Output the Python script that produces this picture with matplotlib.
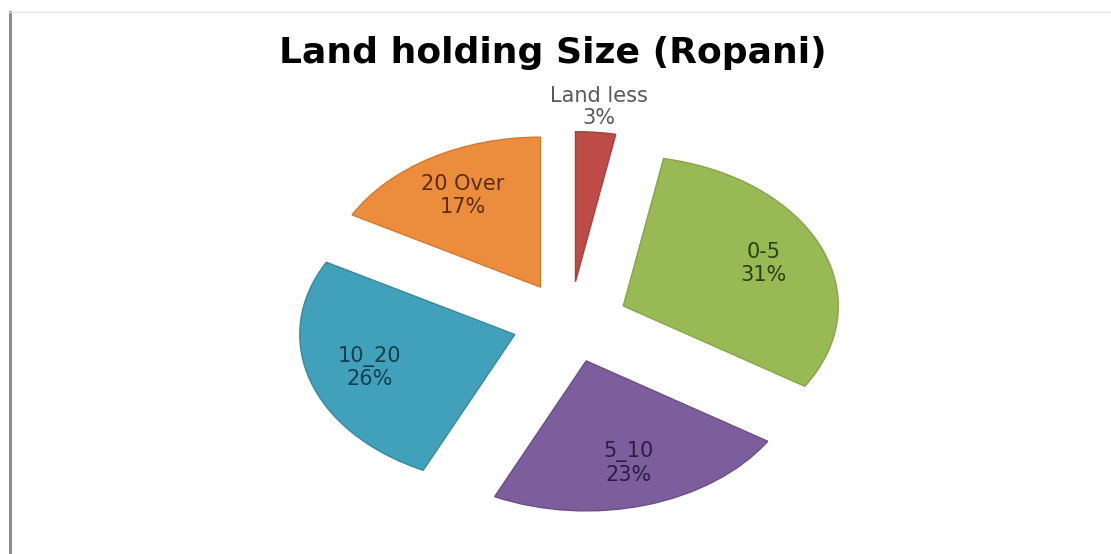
import matplotlib
matplotlib.use("Agg")
import matplotlib.pyplot as plt
import numpy as np

# Land holding categories and their shares (%)
categories = ["Land less", "0-5", "5_10", "10_20", "20 Over"]
shares = [3, 31, 23, 26, 17]

slice_colors = ["#BE4B48", "#98B954", "#7D5E9C", "#41A0BA", "#EC8D3E"]
edge_colors = ["#A43F3C", "#86A548", "#6A4E88", "#3689A1", "#D27A31"]
label_colors = ["#595959", "#2E3F12", "#2A1E44", "#123F50", "#5A2E0C"]

W, H = 1111, 554
fig = plt.figure(figsize=(W / 100, H / 100), dpi=100)
fig.patch.set_facecolor("white")

# chart frame: grey left rule and faint top rule
fig.add_artist(plt.Line2D([9.5 / W, 9.5 / W], [0, 1 - 12 / H], color="#8C8C8C", lw=2.2))
fig.add_artist(plt.Line2D([9 / W, 1], [1 - 12 / H, 1 - 12 / H], color="#E4E4E4", lw=1))

ax = fig.add_axes([0, 0, 1, 1])

# elliptical pie: horizontal radius 215 px, vertical radius 150 px
cx, cy = 570, 322
rx, ry = 215, 150
explode = [0.27] * len(shares)

label_iter = iter(categories)
wedges, texts, autotexts = ax.pie(
    shares,
    explode=explode,
    colors=slice_colors,
    startangle=90,
    counterclock=False,
    autopct=lambda p: f"{next(label_iter)}\n{p:.0f}%",
    pctdistance=0.71,
    textprops=dict(family="DejaVu Sans", fontsize=15),
)

ax.set_aspect("auto")
ax.set_xlim(-cx / rx, (W - cx) / rx)
ax.set_ylim(-(H - cy) / ry, cy / ry)
ax.axis("off")

for w, ec in zip(wedges, edge_colors):
    w.set_edgecolor(ec)
    w.set_linewidth(1.0)

for i, (t, w) in enumerate(zip(autotexts, wedges)):
    t.set_color(label_colors[i])
    t.set_linespacing(1.15)
    if shares[i] < 5:
        # small slice: label sits outside, above the wedge
        ang = np.deg2rad((w.theta1 + w.theta2) / 2)
        ox, oy = w.center
        t.set_position((ox + 1.17 * np.cos(ang), oy + 1.17 * np.sin(ang)))

fig.text(553 / W, 1 - 53 / H, "Land holding Size (Ropani)", ha="center", va="center",
         family="DejaVu Sans", fontweight="bold", fontsize=26, color="black")

fig.savefig("out.png", dpi=100, facecolor="white")
